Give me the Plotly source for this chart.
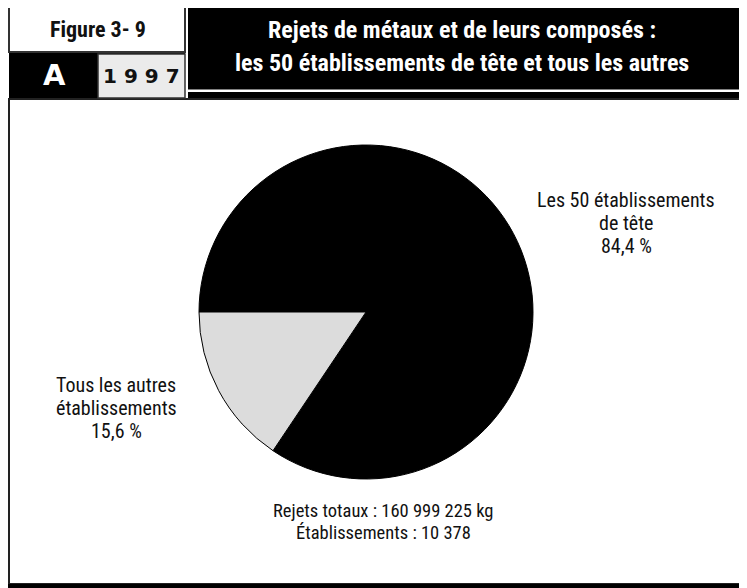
import plotly.graph_objects as go

# page is offset by the 8px body margin, so the figure is sized to fit the window
OFF = 8
W, H = 747, 588
FW, FH = W - OFF, H - OFF

labels = ["Les 50 établissements de tête", "Tous les autres établissements"]
values = [84.4, 15.6]
colors = ["#000000", "#dcdcdc"]

fig_label = "Figure 3- 9"
panel = "A"
year = "1 9 9 7"
title_lines = ["Rejets de métaux et de leurs composés :",
               "les 50 établissements de tête et tous les autres"]
label_top = ["Les 50 établissements", "de tête", "84,4 %"]
label_other = ["Tous les autres", "établissements", "15,6 %"]
footer = ["Rejets totaux : 160 999 225 kg", "Établissements : 10 378"]

FONT = "Roboto Condensed, Arial Narrow, sans-serif"
WIDE = "DejaVu Sans, Arial, sans-serif"


def px(x):
    return (x - OFF) / FW


def py(y):
    return 1 - (y - OFF) / FH


def rect(x0, y0, x1, y1, fill, line=None, lw=0):
    return dict(type="rect", xref="paper", yref="paper", layer="below",
                x0=px(x0), x1=px(x1), y0=py(y1), y1=py(y0),
                fillcolor=fill,
                line=dict(color=line or fill, width=lw))


cx, cy, r = 366, 312, 167

fig = go.Figure(go.Pie(
    labels=labels, values=values, sort=False,
    direction="clockwise", rotation=-90,
    marker=dict(colors=colors, line=dict(color="#000000", width=1)),
    textinfo="none", hoverinfo="label+percent",
    domain=dict(x=[px(cx - r), px(cx + r)], y=[py(cy + r), py(cy - r)]),
    showlegend=False,
))

shapes = [
    rect(9, 99, 770, 584, "#ffffff", "#222222", 2),
    rect(8, 584, 770, 610, "#000000"),
    rect(9, 52, 185, 98, "#000000"),
    rect(9, 7, 185, 52, "#ffffff", "#333333", 2),
    rect(98, 54, 185, 98, "#ebebeb", "#333333", 1.5),
    rect(188, 6, 770, 98, "#000000"),
    rect(188, 89.5, 770, 92, "#ffffff"),
]

ann = []


def text(x, y, s, size, color="#111111", bold=False, family=FONT):
    ann.append(dict(x=px(x), y=py(y), xref="paper", yref="paper",
                    text=f"<b>{s}</b>" if bold else s, showarrow=False,
                    xanchor="center", yanchor="middle",
                    font=dict(size=size, color=color, family=family)))


text(98, 30, fig_label, 22, "#111111", True)
text(54, 75, panel, 29, "#ffffff", True, WIDE)
text(141, 76, year, 20, "#111111", True, WIDE)
text(462, 30, title_lines[0], 24, "#ffffff", True)
text(462, 63, title_lines[1], 24, "#ffffff", True)
for i, s in enumerate(label_top):
    text(626, 200 + 23 * i, s, 20)
for i, s in enumerate(label_other):
    text(116, 385 + 23 * i, s, 20)
for i, s in enumerate(footer):
    text(383, 511 + 22 * i, s, 18.5)

fig.update_layout(width=FW, height=FH, margin=dict(l=0, r=0, t=0, b=0),
                  paper_bgcolor="#ffffff", plot_bgcolor="#ffffff",
                  shapes=shapes, annotations=ann)
fig.write_html("out.html")
